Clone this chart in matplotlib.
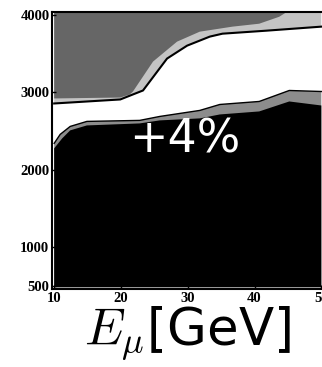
import matplotlib
matplotlib.use('Agg')
import matplotlib.pyplot as plt

# upper excluded region: light band boundary and dark area boundary
band_x = [10, 19.9, 21.8, 23.3, 26.9, 29.9, 33.3, 35.2, 41.8, 50]
band_low = [2858, 2910, 2975, 3026, 3439, 3606, 3723, 3761, 3800, 3852]
dark_x = [10, 19.9, 21.3, 21.8, 24.8, 28.4, 31.8, 36.7, 40.7, 43.7, 44.8]
dark_low = [2923, 2935, 2974, 3013, 3400, 3658, 3787, 3852, 3890, 3980, 4040]

# lower region: grey band on top of black area
grey_x = [10, 10.9, 12.4, 14.9, 22.8, 25.8, 31.8, 34.8, 40.7, 45.2, 50]
grey_top = [2342, 2458, 2561, 2626, 2639, 2690, 2768, 2845, 2884, 3026, 3013]
black_x = [10, 11.2, 12.4, 14.9, 22.8, 25.8, 31.8, 34.8, 40.7, 45.2, 50]
black_top = [2277, 2406, 2510, 2574, 2600, 2639, 2665, 2716, 2755, 2884, 2832]

xticks = [10, 20, 30, 40, 50]
yticks = [500, 1000, 2000, 3000, 4000]

plt.rcParams['mathtext.fontset'] = 'cm'

fig = plt.figure(figsize=(3.22, 3.67), dpi=100)
ax = fig.add_axes([0.162, 0.213, 0.838, 0.754])

ymin, ymax, yfloor = 460, 4040, 480

ax.fill(band_x + [band_x[-1], band_x[0]], band_low + [ymax, ymax], color='#c4c4c4', lw=0)
ax.fill(dark_x + [dark_x[0]], dark_low + [ymax], color='#666666', lw=0)
ax.plot(band_x, band_low, color='black', lw=1.5)

ax.fill(grey_x + [grey_x[-1], grey_x[0]], grey_top + [yfloor, yfloor], color='#8c8c8c', lw=0)
ax.fill(black_x + [black_x[-1], black_x[0]], black_top + [yfloor, yfloor], color='black', lw=0)
ax.plot(grey_x, grey_top, color='black', lw=1)

ax.text(29.5, 2390, '+4%', color='white', fontsize=33, ha='center', va='center')

ax.set_xlim(9.7, 50.1)
ax.set_ylim(ymin, ymax)
ax.set_xticks(xticks)
ax.set_yticks(yticks)
ax.set_xticklabels([str(t) for t in xticks], family='Liberation Serif', fontweight='bold', fontsize=10.5)
ax.set_yticklabels([str(t) for t in yticks], family='Liberation Serif', fontweight='bold', fontsize=10.5)
ax.tick_params(direction='in', length=3, width=1, pad=2)
ax.spines['right'].set_visible(False)
for s in ['left', 'bottom', 'top']:
    ax.spines[s].set_linewidth(1.5)

ax.set_xlabel(r'$E_\mu$[GeV]', fontsize=37, labelpad=0)

fig.savefig('out.png', dpi=100)
